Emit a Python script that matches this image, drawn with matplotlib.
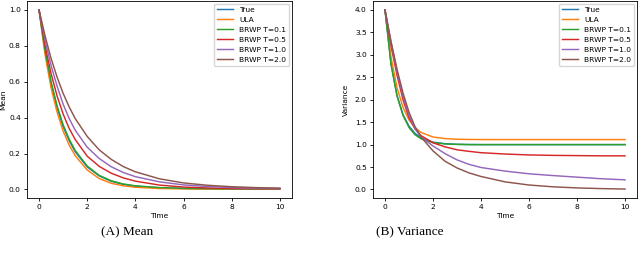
import numpy as np
from matplotlib import pyplot as plt

# time grid the values were read at
time = [0, 0.25, 0.5, 0.75, 1, 1.25, 1.5, 2, 2.5, 3, 3.5, 4, 5, 6, 7, 8, 9, 10]

labels = ["True", "ULA", "BRWP T=0.1", "BRWP T=0.5", "BRWP T=1.0", "BRWP T=2.0"]

# mean panel
mean_true = [1, 0.77, 0.59, 0.455, 0.35, 0.272, 0.21, 0.125, 0.075, 0.045, 0.028, 0.018, 0.009, 0.005, 0.004, 0.003, 0.003, 0.003]
mean_ula = [1, 0.75, 0.565, 0.43, 0.325, 0.247, 0.188, 0.108, 0.06, 0.034, 0.02, 0.012, 0.005, 0.003, 0.002, 0.002, 0.002, 0.002]
mean_t01 = [1, 0.775, 0.6, 0.465, 0.36, 0.28, 0.217, 0.13, 0.078, 0.048, 0.03, 0.02, 0.01, 0.006, 0.004, 0.003, 0.003, 0.003]
mean_t05 = [1, 0.8, 0.645, 0.52, 0.42, 0.34, 0.278, 0.185, 0.128, 0.09, 0.064, 0.046, 0.024, 0.013, 0.008, 0.005, 0.004, 0.004]
mean_t10 = [1, 0.83, 0.69, 0.575, 0.475, 0.395, 0.33, 0.235, 0.172, 0.126, 0.094, 0.071, 0.042, 0.025, 0.016, 0.01, 0.007, 0.005]
mean_t20 = [1, 0.855, 0.73, 0.625, 0.535, 0.46, 0.395, 0.295, 0.22, 0.167, 0.127, 0.098, 0.059, 0.036, 0.023, 0.015, 0.01, 0.007]

# variance panel
var_true = [4, 2.82, 2.1, 1.67, 1.41, 1.25, 1.15, 1.055, 1.02, 1.007, 1.002, 1.0, 1.0, 1.0, 1.0, 1.0, 1.0, 1.0]
var_ula = [4, 2.95, 2.27, 1.83, 1.55, 1.38, 1.27, 1.17, 1.135, 1.12, 1.115, 1.113, 1.112, 1.112, 1.112, 1.112, 1.112, 1.112]
var_t01 = [4, 2.78, 2.08, 1.65, 1.38, 1.22, 1.13, 1.045, 1.015, 1.005, 1.0, 1.0, 1.0, 1.0, 1.0, 1.0, 1.0, 1.0]
var_t05 = [4, 3.2, 2.55, 2.0, 1.6, 1.35, 1.2, 1.04, 0.95, 0.885, 0.85, 0.82, 0.79, 0.77, 0.76, 0.755, 0.75, 0.75]
var_t10 = [4, 3.28, 2.63, 2.08, 1.65, 1.36, 1.17, 0.97, 0.8, 0.66, 0.56, 0.49, 0.41, 0.35, 0.31, 0.275, 0.24, 0.215]
var_t20 = [4, 3.3, 2.68, 2.15, 1.72, 1.4, 1.17, 0.86, 0.63, 0.48, 0.37, 0.29, 0.17, 0.10, 0.06, 0.035, 0.02, 0.01]

mean_series = [mean_true, mean_ula, mean_t01, mean_t05, mean_t10, mean_t20]
var_series = [var_true, var_ula, var_t01, var_t05, var_t10, var_t20]

fs = 5.4
fig = plt.figure(figsize=(6.4, 2.54), dpi=100)
ax1 = fig.add_axes([27/640, 56/254, 265/640, 197/254])
ax2 = fig.add_axes([373/640, 56/254, 264/640, 197/254])

for ax, series, ylab in [(ax1, mean_series, "Mean"), (ax2, var_series, "Variance")]:
    for i, (vals, lab) in enumerate(zip(series, labels)):
        ax.plot(time, vals, color="C%d" % i, lw=1.05, label=lab)
    ax.set_xlabel("Time", fontsize=fs, labelpad=2)
    ax.set_ylabel(ylab, fontsize=fs)
    ax.tick_params(labelsize=fs, length=2.5, width=0.6, pad=2)
    for s in ax.spines.values():
        s.set_linewidth(0.6)
    ax.legend(fontsize=fs, loc="upper right", handlelength=2.2, borderaxespad=0.35,
              frameon=True, fancybox=True, framealpha=0.8)

ax1.yaxis.set_label_coords(-0.077, 0.5)
ax2.yaxis.set_label_coords(-0.091, 0.5)

ax1.set_xticks([0, 2, 4, 6, 8, 10])
ax2.set_xticks([0, 2, 4, 6, 8, 10])
ax1.set_yticks([0.0, 0.2, 0.4, 0.6, 0.8, 1.0])
ax2.set_yticks([0.0, 0.5, 1.0, 1.5, 2.0, 2.5, 3.0, 3.5, 4.0])

fig.text(127/640, 1 - 232/254, "(A) Mean", ha="center", va="center",
         fontsize=9.5, family="Liberation Serif")
fig.text(410/640, 1 - 232/254, "(B) Variance", ha="center", va="center",
         fontsize=9.5, family="Liberation Serif")

fig.savefig("out.png", dpi=100)
